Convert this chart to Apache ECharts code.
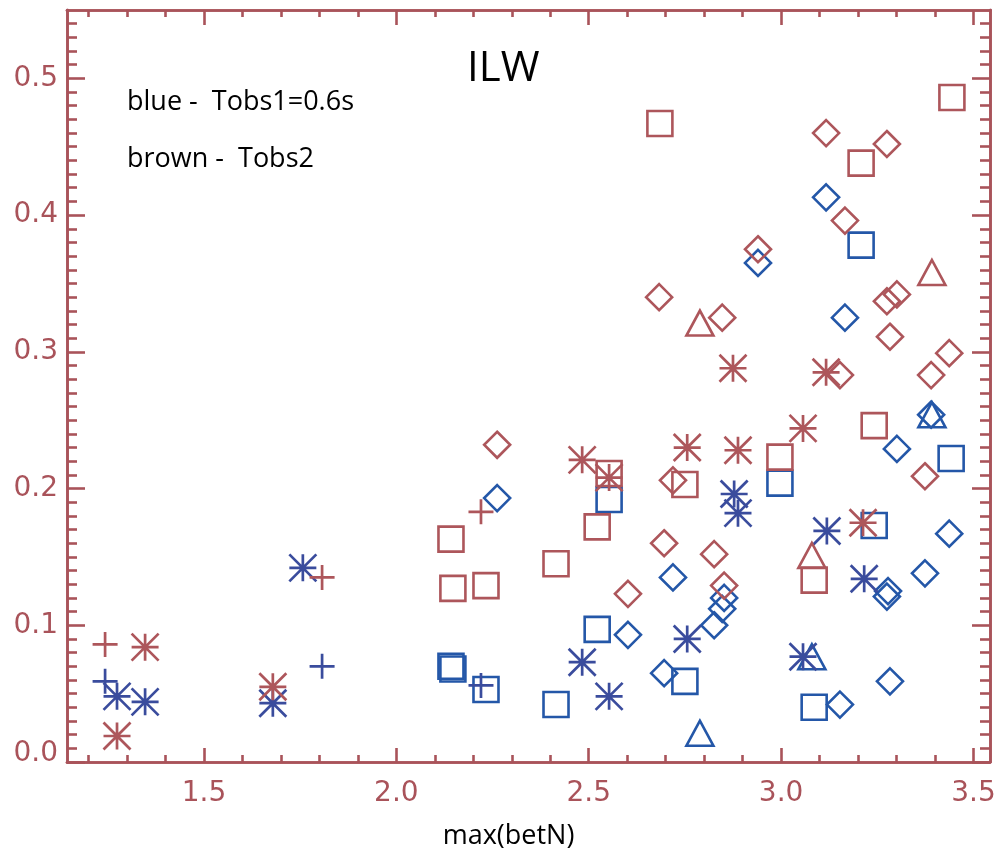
<!DOCTYPE html>
<html>
<head>
<meta charset="utf-8">
<script src="https://cdn.jsdelivr.net/npm/echarts@6/dist/echarts.min.js"></script>
<style>
  html, body { margin: 0; padding: 0; background: #ffffff; }
  #chart { width: 995px; height: 851px; }
</style>
</head>
<body>
<div id="chart"></div>
<script>
// Axis ranges and tick positions
const xRange = [1.144, 3.543];
const yRange = [0.0, 0.55];
const xMajorTicks = [1.5, 2.0, 2.5, 3.0, 3.5];
const xMinorTicks = [1.2, 1.3, 1.4, 1.6, 1.7, 1.8, 1.9, 2.1, 2.2, 2.3, 2.4, 2.6, 2.7, 2.8, 2.9, 3.1, 3.2, 3.3, 3.4];
const yMajorTicks = [0.0, 0.1, 0.2, 0.3, 0.4, 0.5];
const yMinorTicks = [0.01, 0.02, 0.03, 0.04, 0.05, 0.06, 0.07, 0.08, 0.09,
  0.11, 0.12, 0.13, 0.14, 0.15, 0.16, 0.17, 0.18, 0.19,
  0.21, 0.22, 0.23, 0.24, 0.25, 0.26, 0.27, 0.28, 0.29,
  0.31, 0.32, 0.33, 0.34, 0.35, 0.36, 0.37, 0.38, 0.39,
  0.41, 0.42, 0.43, 0.44, 0.45, 0.46, 0.47, 0.48, 0.49,
  0.51, 0.52, 0.53, 0.54];

// Tobs1 = 0.6 s (blue), points as [max(betN), value]
const blueDiamond = [
  [2.262, 0.193], [2.602, 0.093], [2.696, 0.065], [2.719, 0.135], [2.826, 0.100],
  [2.847, 0.112], [2.852, 0.120], [2.940, 0.365], [3.117, 0.413], [3.166, 0.325],
  [3.153, 0.042], [3.275, 0.121], [3.278, 0.125], [3.283, 0.059], [3.301, 0.229],
  [3.374, 0.138], [3.390, 0.254], [3.437, 0.167]
];
const blueSquare = [
  [2.142, 0.070], [2.147, 0.068], [2.233, 0.053], [2.415, 0.042], [2.522, 0.097],
  [2.553, 0.192], [2.750, 0.059], [2.997, 0.204], [3.086, 0.040], [3.242, 0.173],
  [3.208, 0.378], [3.442, 0.222]
];
const blueTriangle = [[2.789, 0.021], [3.080, 0.077], [3.392, 0.254]];
const blueAsterisk = [
  [1.274, 0.048], [1.347, 0.044], [1.679, 0.043], [1.757, 0.142], [2.483, 0.073],
  [2.553, 0.048], [2.756, 0.090], [2.878, 0.196], [2.888, 0.182], [3.119, 0.169],
  [3.216, 0.134], [3.057, 0.077]
];
const bluePlus = [[1.243, 0.059], [1.807, 0.070], [2.220, 0.056]];

// Tobs2 (brown)
const redDiamond = [
  [2.262, 0.232], [2.602, 0.123], [2.696, 0.160], [2.719, 0.206], [2.826, 0.152],
  [2.852, 0.129], [2.683, 0.340], [2.847, 0.325], [2.940, 0.375], [3.117, 0.460],
  [3.166, 0.396], [3.275, 0.452], [3.275, 0.337], [3.301, 0.342], [3.283, 0.311],
  [3.437, 0.299], [3.390, 0.283], [3.153, 0.283], [3.374, 0.209]
];
const redSquare = [
  [2.142, 0.163], [2.147, 0.127], [2.233, 0.129], [2.415, 0.145], [2.522, 0.172],
  [2.553, 0.211], [2.750, 0.203], [2.685, 0.467], [2.997, 0.223], [3.086, 0.133],
  [3.242, 0.246], [3.208, 0.438], [3.444, 0.486]
];
const redTriangle = [[2.789, 0.321], [3.080, 0.151], [3.392, 0.358]];
const redAsterisk = [
  [1.347, 0.084], [1.274, 0.019], [1.679, 0.055], [2.483, 0.221], [2.553, 0.208],
  [2.756, 0.230], [2.888, 0.228], [3.057, 0.244], [3.213, 0.175], [2.875, 0.288],
  [3.117, 0.285]
];
const redPlus = [[1.243, 0.086], [1.807, 0.135], [2.220, 0.183]];

const AXIS = '#a9535a';
const RED = '#ad565b';
const BLUE = '#2457a8';
const INDIGO = '#3a4c9d';
const ASTERISK = 'path://M0,0L10,10M10,0L0,10M5,0L5,10M0,5L10,5';
const PLUS = 'path://M5,0L5,10M0,5L10,5';
const LABEL_FONT = 'DejaVu Sans';

function markSeries(data, symbol, size, color, width) {
  return {
    type: 'scatter',
    data: data,
    symbol: symbol,
    symbolSize: size,
    itemStyle: { color: 'rgba(0,0,0,0)', borderColor: color, borderWidth: width, opacity: 1 },
    emphasis: { disabled: true },
    silent: true
  };
}

function xAxisDef(position, ticks, len, labels) {
  return {
    type: 'value', position: position, min: xRange[0], max: xRange[1],
    axisLine: { show: true, onZero: false, lineStyle: { color: AXIS, width: 2.6 } },
    axisTick: { show: true, inside: true, length: len, customValues: ticks, lineStyle: { color: AXIS, width: 2.6 } },
    axisLabel: labels ? {
      show: true, customValues: ticks, margin: 18, color: AXIS, fontSize: 28,
      fontFamily: LABEL_FONT, formatter: v => v.toFixed(1)
    } : { show: false },
    splitLine: { show: false }
  };
}

function yAxisDef(position, ticks, len, labels) {
  return {
    type: 'value', position: position, min: yRange[0], max: yRange[1],
    axisLine: { show: true, onZero: false, lineStyle: { color: AXIS, width: 2.6 } },
    axisTick: { show: true, inside: true, length: len, customValues: ticks, lineStyle: { color: AXIS, width: 2.6 } },
    axisLabel: labels ? {
      show: true, customValues: ticks, margin: 9, color: AXIS, fontSize: 28,
      fontFamily: LABEL_FONT,
      formatter: v => (Math.abs(v) < 1e-9 ? '{z|0.0}' : v.toFixed(1)),
      rich: { z: { color: AXIS, fontSize: 28, fontFamily: LABEL_FONT, padding: [0, 0, 16, 0] } }
    } : { show: false },
    splitLine: { show: false }
  };
}

const chart = echarts.init(document.getElementById('chart'), null, { renderer: 'canvas' });

const xMain = xAxisDef('bottom', xMajorTicks, 14, true);
xMain.name = 'max(betN)';
xMain.nameLocation = 'middle';
xMain.nameGap = 61;
xMain.nameTextStyle = { color: '#000', fontSize: 27, fontFamily: 'Open Sans', padding: [0, 40, 0, 0] };

chart.setOption({
  animation: false,
  backgroundColor: '#ffffff',
  grid: { left: 67, right: 5, top: 10, bottom: 89, containLabel: false, outerBoundsMode: 'none' },
  xAxis: [
    xMain,
    xAxisDef('bottom', xMinorTicks, 7, false),
    xAxisDef('top', xMajorTicks, 15, false),
    xAxisDef('top', xMinorTicks, 7, false)
  ],
  yAxis: [
    yAxisDef('left', yMajorTicks, 18, true),
    yAxisDef('left', yMinorTicks, 10, false),
    yAxisDef('right', yMajorTicks, 18, false),
    yAxisDef('right', yMinorTicks, 10, false)
  ],
  graphic: [
    { type: 'text', x: 467, y: 69, style: { text: 'ILW', fill: '#000', font: '42px "Open Sans"', verticalAlign: 'middle' } },
    { type: 'text', x: 127, y: 102, style: { text: 'blue -  Tobs1=0.6s', fill: '#000', font: '27px "Open Sans"', verticalAlign: 'middle' } },
    { type: 'text', x: 127, y: 159, style: { text: 'brown -  Tobs2', fill: '#000', font: '27px "Open Sans"', verticalAlign: 'middle' } }
  ],
  series: [
    markSeries(blueDiamond, 'diamond', 26, BLUE, 2.6),
    markSeries(blueSquare, 'rect', 25, BLUE, 2.6),
    markSeries(blueTriangle, 'triangle', [27, 25], BLUE, 2.6),
    markSeries(blueAsterisk, ASTERISK, 27, INDIGO, 2.7),
    markSeries(bluePlus, PLUS, 25, INDIGO, 2.7),
    markSeries(redDiamond, 'diamond', 26, RED, 2.6),
    markSeries(redSquare, 'rect', 25, RED, 2.6),
    markSeries(redTriangle, 'triangle', [27, 25], RED, 2.6),
    markSeries(redAsterisk, ASTERISK, 27, RED, 2.7),
    markSeries(redPlus, PLUS, 25, RED, 2.7)
  ]
});
</script>
</body>
</html>
